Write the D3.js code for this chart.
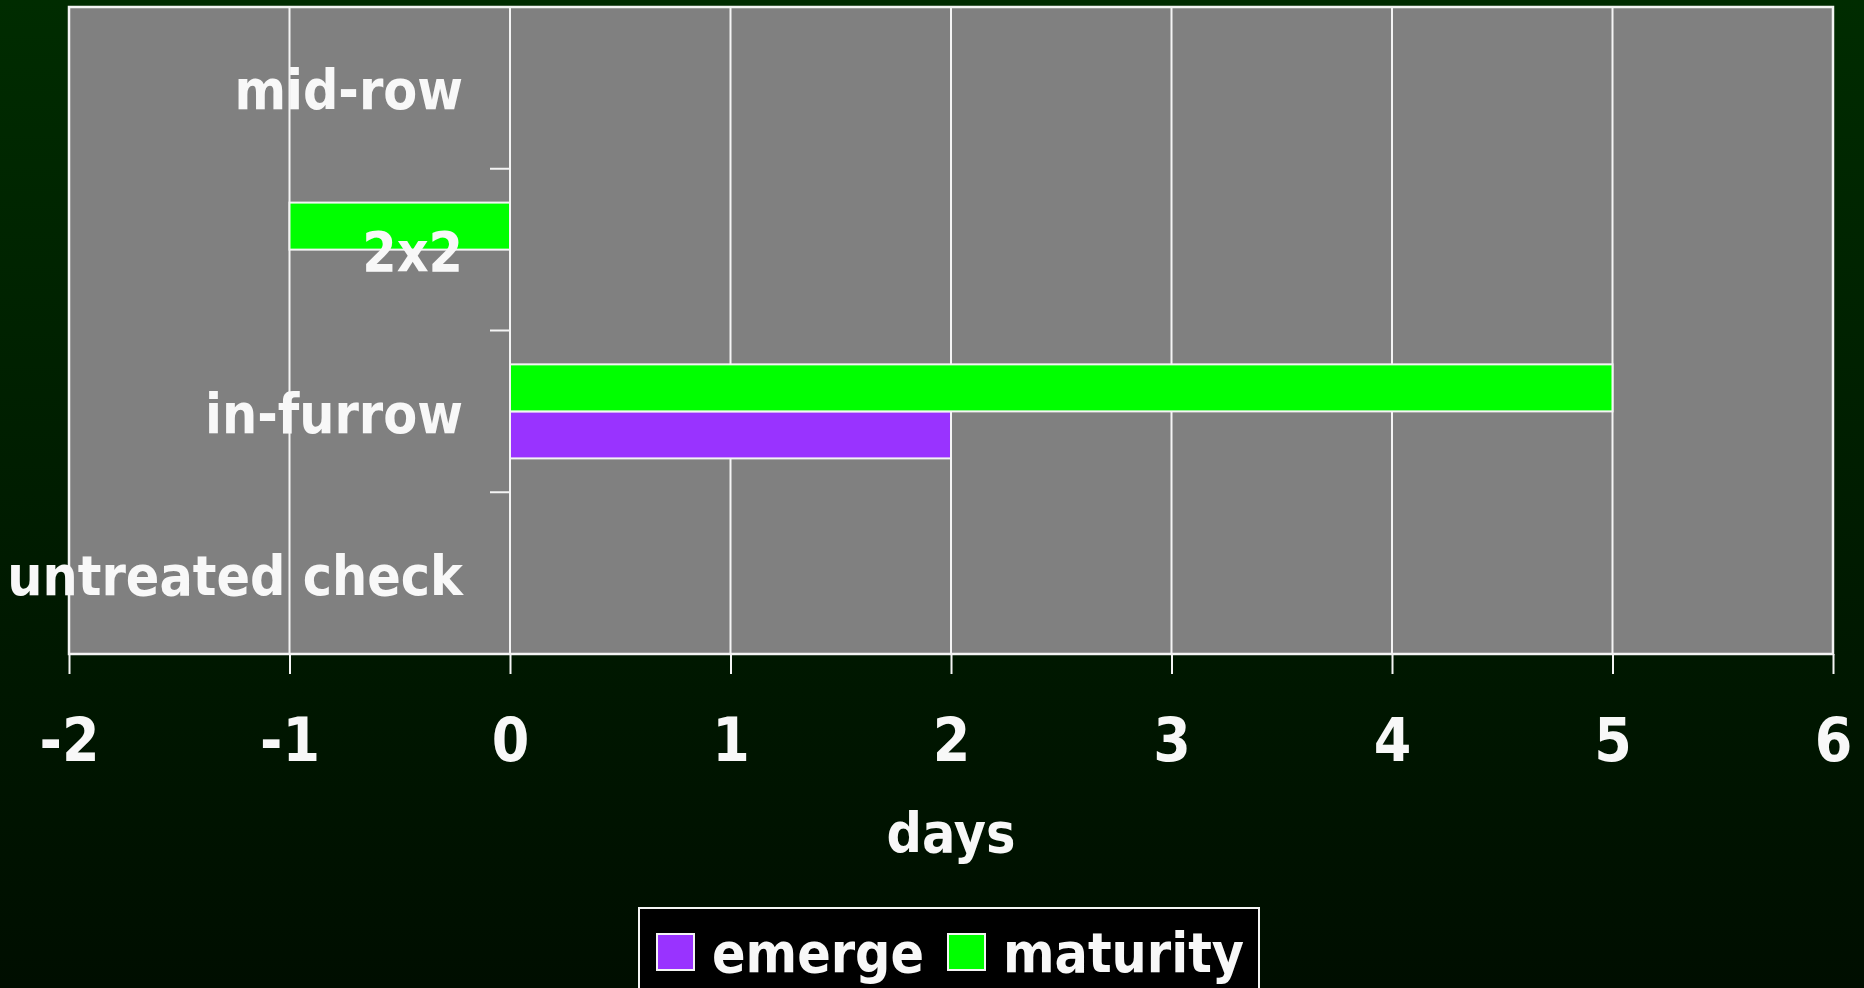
<!DOCTYPE html>
<html>
<head>
<meta charset="utf-8">
<script src="https://cdn.jsdelivr.net/npm/d3@7"></script>
<style>
  html, body { margin: 0; padding: 0; background: #001500; }
  svg { display: block; }
  text { font-family: 'DejaVu Sans Condensed', 'DejaVu Sans', sans-serif; font-weight: bold; fill: #f8f8f8; }
</style>
</head>
<body>
<svg width="1864" height="988"></svg>
<script>
  // categories top to bottom as drawn
  const categories = ['mid-row', '2x2', 'in-furrow', 'untreated check'];
  const seriesNames = ['emerge', 'maturity'];
  const emerge   = [0, 0, 2, 0];
  const maturity = [0, -1, 5, 0];
  const xTicks = [-2, -1, 0, 1, 2, 3, 4, 5, 6];
  const seriesColors = ['#9933ff', '#00ff00'];

  const width = 1864, height = 988;
  const margin = { top: 7, right: 31, bottom: 334, left: 69 };
  const fontSize = 55;
  const tickFontSize = 60;

  const svg = d3.select('svg');

  // dark green backdrop
  const grad = svg.append('defs').append('linearGradient')
      .attr('id', 'bg')
      .attr('x1', 0).attr('y1', 0).attr('x2', 0).attr('y2', 1);
  grad.append('stop').attr('offset', '0%').attr('stop-color', '#002c00');
  grad.append('stop').attr('offset', '100%').attr('stop-color', '#000e00');
  svg.append('rect')
      .attr('width', width).attr('height', height)
      .attr('fill', 'url(#bg)');

  const x = d3.scaleLinear()
    .domain([d3.min(xTicks), d3.max(xTicks)])
    .range([margin.left, width - margin.right]);

  const y = d3.scaleBand()
    .domain(categories)
    .range([margin.top, height - margin.bottom])
    .padding(0);

  // maturity sits above emerge inside each band
  const ySeries = d3.scaleBand()
    .domain(['maturity', 'emerge'])
    .range([0, y.bandwidth()])
    .paddingInner(0)
    .paddingOuter(0.72);

  const color = d3.scaleOrdinal().domain(seriesNames).range(seriesColors);

  const plotTop = margin.top, plotBottom = height - margin.bottom;

  svg.append('rect')
      .attr('x', x.range()[0]).attr('y', plotTop)
      .attr('width', x.range()[1] - x.range()[0])
      .attr('height', plotBottom - plotTop)
      .attr('fill', '#808080');

  // vertical gridlines
  svg.append('g')
    .selectAll('line')
    .data(xTicks)
    .enter().append('line')
      .attr('x1', d => x(d)).attr('x2', d => x(d))
      .attr('y1', plotTop).attr('y2', plotBottom)
      .attr('stroke', '#f4f4f4')
      .attr('stroke-width', 2);

  // bars
  const rows = categories.map((c, i) => ({ cat: c, emerge: emerge[i], maturity: maturity[i] }));
  const barG = svg.append('g');
  seriesNames.forEach(s => {
    barG.selectAll('.bar-' + s)
      .data(rows.filter(r => r[s] !== 0))
      .enter().append('rect')
        .attr('class', 'bar-' + s)
        .attr('x', d => x(Math.min(0, d[s])))
        .attr('width', d => Math.abs(x(d[s]) - x(0)))
        .attr('y', d => y(d.cat) + ySeries(s))
        .attr('height', ySeries.bandwidth())
        .attr('fill', color(s))
        .attr('stroke', '#f4f4f4')
        .attr('stroke-width', 2);
  });

  // plot border
  svg.append('rect')
      .attr('x', x.range()[0]).attr('y', plotTop)
      .attr('width', x.range()[1] - x.range()[0])
      .attr('height', plotBottom - plotTop)
      .attr('fill', 'none')
      .attr('stroke', '#f4f4f4')
      .attr('stroke-width', 2.5);

  // x axis
  const xAxis = d3.axisBottom(x)
    .tickValues(xTicks)
    .tickFormat(d => String(d))
    .tickSize(20)
    .tickPadding(44);

  const xAxisG = svg.append('g')
      .attr('transform', `translate(0,${plotBottom})`)
      .call(xAxis);
  xAxisG.select('.domain').remove();
  xAxisG.selectAll('line').attr('stroke', '#f4f4f4').attr('stroke-width', 2);
  xAxisG.selectAll('text')
      .attr('fill', '#f8f8f8')
      .style('font-size', tickFontSize + 'px')
      .attr('dy', '0.71em');

  // category axis at x = 0, ticks between categories
  svg.append('g')
    .selectAll('line')
    .data(categories.slice(1))
    .enter().append('line')
      .attr('x1', x(0) - 20).attr('x2', x(0))
      .attr('y1', d => y(d)).attr('y2', d => y(d))
      .attr('stroke', '#f4f4f4')
      .attr('stroke-width', 2);

  svg.append('g')
    .selectAll('text')
    .data(categories)
    .enter().append('text')
      .attr('x', x(0) - 47)
      .attr('y', d => y(d) + y.bandwidth() / 2)
      .attr('dy', '0.39em')
      .attr('text-anchor', 'end')
      .style('font-size', fontSize + 'px')
      .text(d => d);

  // axis title
  svg.append('text')
      .attr('x', x(2))
      .attr('y', 852)
      .attr('text-anchor', 'middle')
      .style('font-size', fontSize + 'px')
      .text('days');

  // legend
  const legendG = svg.append('g').attr('transform', 'translate(639,908)');
  legendG.append('rect')
      .attr('width', 620).attr('height', 100)
      .attr('fill', '#000')
      .attr('stroke', '#f4f4f4')
      .attr('stroke-width', 2);

  const legendX = [18, 309];
  const items = legendG.selectAll('.item')
    .data(seriesNames)
    .enter().append('g')
      .attr('class', 'item')
      .attr('transform', (d, i) => `translate(${legendX[i]},26)`);
  items.append('rect')
      .attr('width', 37).attr('height', 36)
      .attr('fill', d => color(d))
      .attr('stroke', '#f4f4f4')
      .attr('stroke-width', 2);
  items.append('text')
      .attr('x', 55)
      .attr('y', 38)
      .style('font-size', fontSize + 'px')
      .text(d => d);
</script>
</body>
</html>
